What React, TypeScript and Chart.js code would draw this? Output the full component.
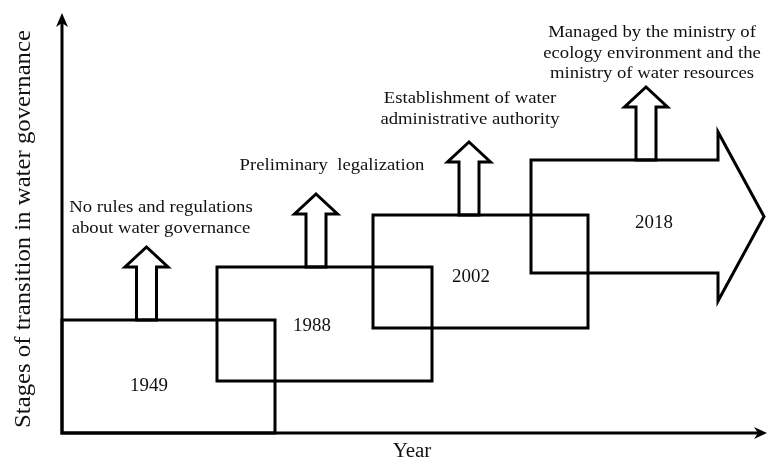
import React, { useEffect, useRef } from "react";
import { Chart, registerables } from "chart.js";
Chart.register(...registerables);

// Stages (categories)
const stageYears = ["1949", "1988", "2002", "2018"];
const stageEvents = [
  ["No rules and regulations", "about water governance"],
  ["Preliminary  legalization"],
  ["Establishment of water", "administrative authority"],
  ["Managed by the ministry of", "ecology environment and the", "ministry of water resources"],
];
// Stage box extents in diagram units
const boxLeft = [0, 155, 311, 469];
const boxRight = [213, 370, 526, 656];
const boxBottom = [0, 52, 105, 160];
const boxTop = [113, 166, 218, 273];
// Last stage arrow head
const headBottom = 132;
const headTop = 301;
const headTipX = 702;
// Event arrows (x centre)
const eventArrowX = [84.5, 254, 407, 584];
// Label anchors
const yearLabelX = [87, 250, 409, 592];
const yearLabelY = [42, 102, 151, 205];
const eventLabelX = [99, 270, 408, 590];
const eventLabelTopBaseline = [221, 263, 330, 396];

const X_MAX = 707;
const Y_MAX = 420;
const X_AXIS_END = 705;

type P = { x: number; y: number };

function closed(pts: P[]): P[] {
  return [...pts, pts[0], pts[1]];
}

function makeDatasets() {
  const ds: any[] = [];
  const lineStyle = {
    showLine: true,
    borderColor: "#000",
    borderWidth: 3,
    pointRadius: 0,
    pointHoverRadius: 0,
    tension: 0,
    fill: false,
    clip: false,
    borderJoinStyle: "miter",
    borderCapStyle: "butt",
  };
  // axes
  ds.push({ ...lineStyle, data: [{ x: 0, y: Y_MAX - 8 }, { x: 0, y: 0 }, { x: X_AXIS_END - 6, y: 0 }] });
  stageYears.forEach((_, i) => {
    const l = boxLeft[i], r = boxRight[i], b = boxBottom[i], t = boxTop[i];
    let pts: P[];
    if (i === stageYears.length - 1) {
      const mid = (b + t) / 2;
      pts = [
        { x: l, y: b }, { x: l, y: t }, { x: r, y: t }, { x: r, y: headTop },
        { x: headTipX, y: mid }, { x: r, y: headBottom }, { x: r, y: b },
      ];
    } else {
      pts = [{ x: l, y: b }, { x: l, y: t }, { x: r, y: t }, { x: r, y: b }];
    }
    ds.push({ ...lineStyle, data: closed(pts) });
    const cx = eventArrowX[i];
    const sh = 10, hh = 21.5, sl = 53, hl = 20;
    const ap: P[] = [
      { x: cx - sh, y: t }, { x: cx - sh, y: t + sl }, { x: cx - hh, y: t + sl },
      { x: cx, y: t + sl + hl }, { x: cx + hh, y: t + sl }, { x: cx + sh, y: t + sl }, { x: cx + sh, y: t },
    ];
    ds.push({ ...lineStyle, data: closed(ap) });
  });
  return ds;
}

function drawText(ctx: CanvasRenderingContext2D, text: string, x: number, y: number, size: number, sx: number) {
  ctx.save();
  ctx.translate(x, y);
  ctx.scale(sx, 1);
  ctx.font = `${size}px "Liberation Serif", "Times New Roman", serif`;
  ctx.fillStyle = "#111";
  ctx.textAlign = "center";
  ctx.textBaseline = "alphabetic";
  ctx.fillText(text, 0, 0);
  ctx.restore();
}

const labelPlugin = {
  id: "labels",
  afterDatasetsDraw(chart: any) {
    const ctx = chart.ctx as CanvasRenderingContext2D;
    const xs = chart.scales.x, ys = chart.scales.y;
    // axis arrowheads
    const ox = xs.getPixelForValue(0), oy = ys.getPixelForValue(0);
    const ty = ys.getPixelForValue(Y_MAX);
    const tx = xs.getPixelForValue(X_AXIS_END);
    ctx.save();
    ctx.fillStyle = "#000";
    ctx.beginPath();
    ctx.moveTo(ox, ty);
    ctx.lineTo(ox + 6, ty + 14);
    ctx.lineTo(ox, ty + 10);
    ctx.lineTo(ox - 6, ty + 14);
    ctx.closePath();
    ctx.fill();
    ctx.beginPath();
    ctx.moveTo(tx, oy);
    ctx.lineTo(tx - 13, oy - 6);
    ctx.lineTo(tx - 9, oy);
    ctx.lineTo(tx - 13, oy + 6);
    ctx.closePath();
    ctx.fill();
    ctx.restore();

    stageYears.forEach((yr, i) => {
      drawText(ctx, yr, xs.getPixelForValue(yearLabelX[i]), ys.getPixelForValue(yearLabelY[i]), 18, 1.05);
      stageEvents[i].forEach((line, j) => {
        drawText(ctx, line, xs.getPixelForValue(eventLabelX[i]), ys.getPixelForValue(eventLabelTopBaseline[i]) + j * 20.5, 17, 1.1);
      });
    });
    // axis titles
    drawText(ctx, "Year", xs.getPixelForValue(350), oy + 24, 20, 1.05);
    ctx.save();
    ctx.translate(30, (oy + ty) / 2 + 6);
    ctx.rotate(-Math.PI / 2);
    drawText(ctx, "Stages of transition in water governance", 0, 0, 22.5, 1.1);
    ctx.restore();
  },
};

export default function App() {
  const ref = useRef<HTMLCanvasElement>(null);
  useEffect(() => {
    document.body.style.margin = "0";
    const c = ref.current!;
    const chart = new Chart(c, {
      type: "scatter",
      data: { datasets: makeDatasets() },
      options: {
        responsive: false,
        animation: false,
        events: [],
        layout: { padding: { left: 62, right: 0, top: 13, bottom: 33 } },
        scales: {
          x: { type: "linear", min: 0, max: X_MAX, display: false },
          y: { type: "linear", min: 0, max: Y_MAX, display: false },
        },
        plugins: { legend: { display: false }, tooltip: { enabled: false } },
      },
      plugins: [labelPlugin],
    } as any);
    return () => chart.destroy();
  }, []);
  return (
    <div style={{ background: "#fff", width: 769, height: 466 }}>
      <canvas ref={ref} width={769} height={466} style={{ display: "block" }} />
    </div>
  );
}
